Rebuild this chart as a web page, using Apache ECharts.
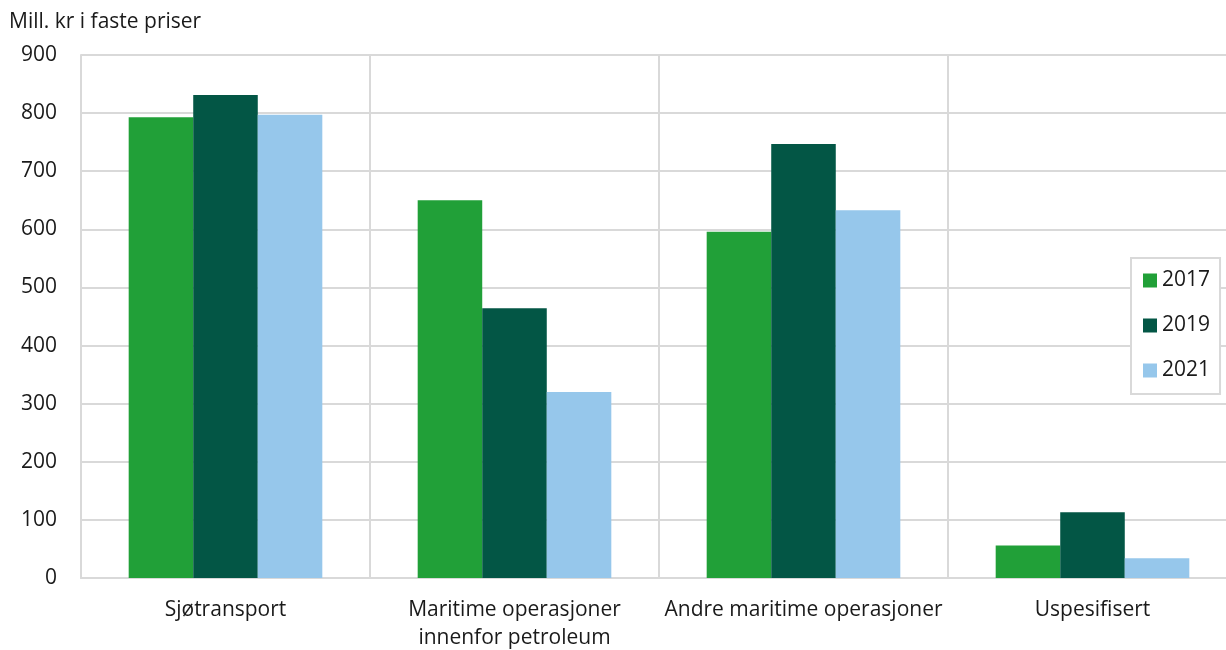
<!DOCTYPE html>
<html><head><meta charset="utf-8">
<script src="https://cdn.jsdelivr.net/npm/echarts@6/dist/echarts.min.js"></script>
<style>html,body{margin:0;padding:0;background:#fff}#c{width:1226px;height:650px}</style>
</head><body><div id="c"></div>
<script>
const categories = ['Sjøtransport', 'Maritime operasjoner\ninnenfor petroleum', 'Andre maritime operasjoner', 'Uspesifisert'];
const s2017 = [793, 650, 596, 56];
const s2019 = [831, 464, 747, 113];
const s2021 = [797, 320, 633, 34];
const yTicks = [0, 100, 200, 300, 400, 500, 600, 700, 800, 900];
const FONT = '"Open Sans", "Noto Sans", sans-serif';
const chart = echarts.init(document.getElementById('c'), null, {renderer: 'canvas'});
chart.setOption({
  animation: false,
  textStyle: {fontFamily: FONT},
  title: {text: 'Mill. kr i faste priser', left: 9, top: 12, padding: 0,
    textStyle: {fontFamily: FONT, fontSize: 21, fontWeight: 'normal', color: '#1a1a1a'}},
  grid: {left: 81, width: 1156, top: 55, height: 523, containLabel: false, outerBoundsMode: 'none'},
  legend: {
    orient: 'vertical', left: 1131, top: 258,
    data: ['2017', '2019', '2021'],
    icon: 'rect',
    itemWidth: 14, itemHeight: 14, itemGap: 24,
    padding: [12, 10, 13, 12],
    borderColor: '#d9d9d9', borderWidth: 2, backgroundColor: '#fff',
    textStyle: {fontFamily: FONT, fontSize: 21, color: '#1a1a1a'}
  },
  xAxis: {
    type: 'category', data: categories,
    axisLine: {show: true, lineStyle: {color: '#d9d9d9', width: 2}},
    axisTick: {show: false},
    splitLine: {show: true, lineStyle: {color: '#d9d9d9', width: 2}},
    axisLabel: {fontFamily: FONT, fontSize: 21, color: '#1a1a1a', margin: 18, lineHeight: 28, interval: 0}
  },
  yAxis: {
    type: 'value', min: yTicks[0], max: yTicks[yTicks.length-1], interval: 100,
    axisLine: {show: true, lineStyle: {color: '#d9d9d9', width: 2}},
    axisTick: {show: false},
    splitLine: {show: true, lineStyle: {color: '#d9d9d9', width: 2}},
    axisLabel: {fontFamily: FONT, fontSize: 21, color: '#1a1a1a', margin: 24}
  },
  series: [
    {name: '2017', type: 'bar', data: s2017, itemStyle: {color: '#21a038'}, barGap: '0%', barCategoryGap: '33%'},
    {name: '2019', type: 'bar', data: s2019, itemStyle: {color: '#035645'}, barGap: '0%', barCategoryGap: '33%'},
    {name: '2021', type: 'bar', data: s2021, itemStyle: {color: '#96c7eb'}, barGap: '0%', barCategoryGap: '33%'}
  ]
});
</script></body></html>
